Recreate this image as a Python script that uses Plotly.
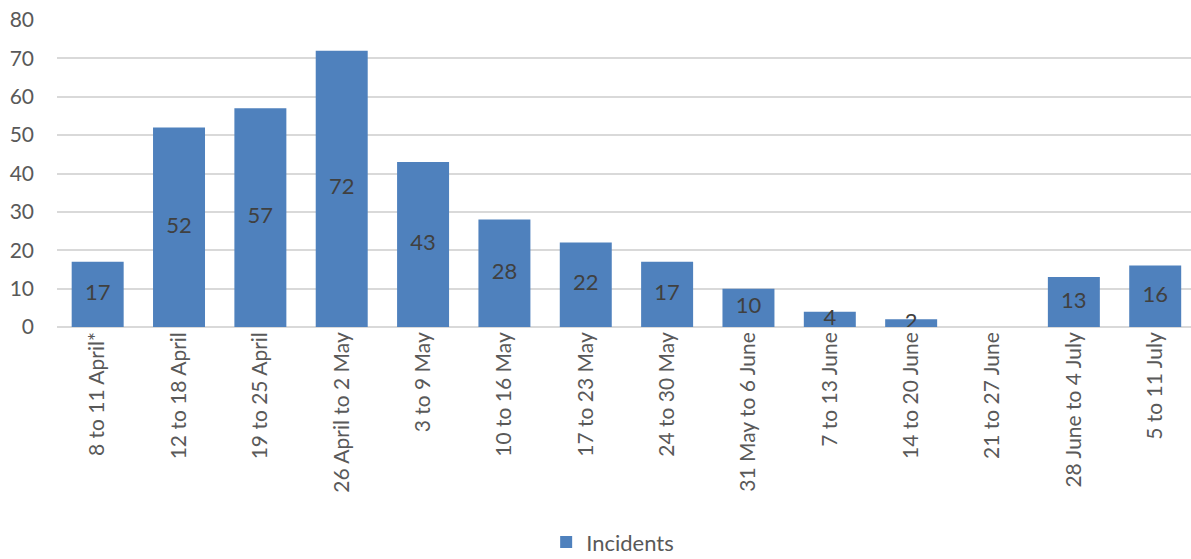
import plotly.graph_objects as go

categories = ["8 to 11 April*", "12 to 18 April", "19 to 25 April", "26 April to 2 May",
              "3 to 9 May", "10 to 16 May", "17 to 23 May", "24 to 30 May",
              "31 May to 6 June", "7 to 13 June", "14 to 20 June", "21 to 27 June",
              "28 June to 4 July", "5 to 11 July"]
incidents = [17, 52, 57, 72, 43, 28, 22, 17, 10, 4, 2, None, 13, 16]
y_ticks = [0, 10, 20, 30, 40, 50, 60, 70, 80]

FONT = "Lato, Calibri, Carlito, sans-serif"
BAR = "#4F81BD"

label_x = [c for c, v in zip(categories, incidents) if v is not None]
label_y = [v / 2 for v in incidents if v is not None]
label_t = [str(v) for v in incidents if v is not None]

fig = go.Figure()
fig.add_trace(go.Bar(x=categories, y=incidents, name="Incidents",
                     marker=dict(color=BAR, line=dict(width=0)), showlegend=True))
fig.add_trace(go.Scatter(x=label_x, y=label_y, text=label_t, mode="text",
                         textfont=dict(family=FONT, size=22, color="#404040"),
                         showlegend=False, hoverinfo="skip"))

fig.update_layout(
    width=1191, height=559,
    margin=dict(l=57, r=0, t=20, b=232),
    paper_bgcolor="white", plot_bgcolor="white",
    bargap=0.361,
    font=dict(family=FONT, size=21, color="#595959"),
    legend=dict(orientation="h", x=0.49, xanchor="center", yref="container",
                y=0.03, yanchor="middle", font=dict(size=22, color="#595959")),
    xaxis=dict(tickangle=-90, showgrid=False, showline=False, ticks="", automargin=False,
               range=[-0.5, 13.44], autorange=False,
               tickfont=dict(size=21, color="#595959")),
    yaxis=dict(range=[0, 80], autorange=False, tickvals=y_ticks, showgrid=True,
               gridcolor="#D9D9D9", gridwidth=1.5, zeroline=True, zerolinecolor="#D9D9D9",
               zerolinewidth=1.5, ticks="", ticklabelstandoff=22, automargin=False,
               ticklabeloverflow="allow", tickfont=dict(size=21, color="#595959")),
)

fig.write_html("out.html", config={"displayModeBar": False},
               post_script="document.body.style.margin='0';document.body.style.overflow='hidden';")
